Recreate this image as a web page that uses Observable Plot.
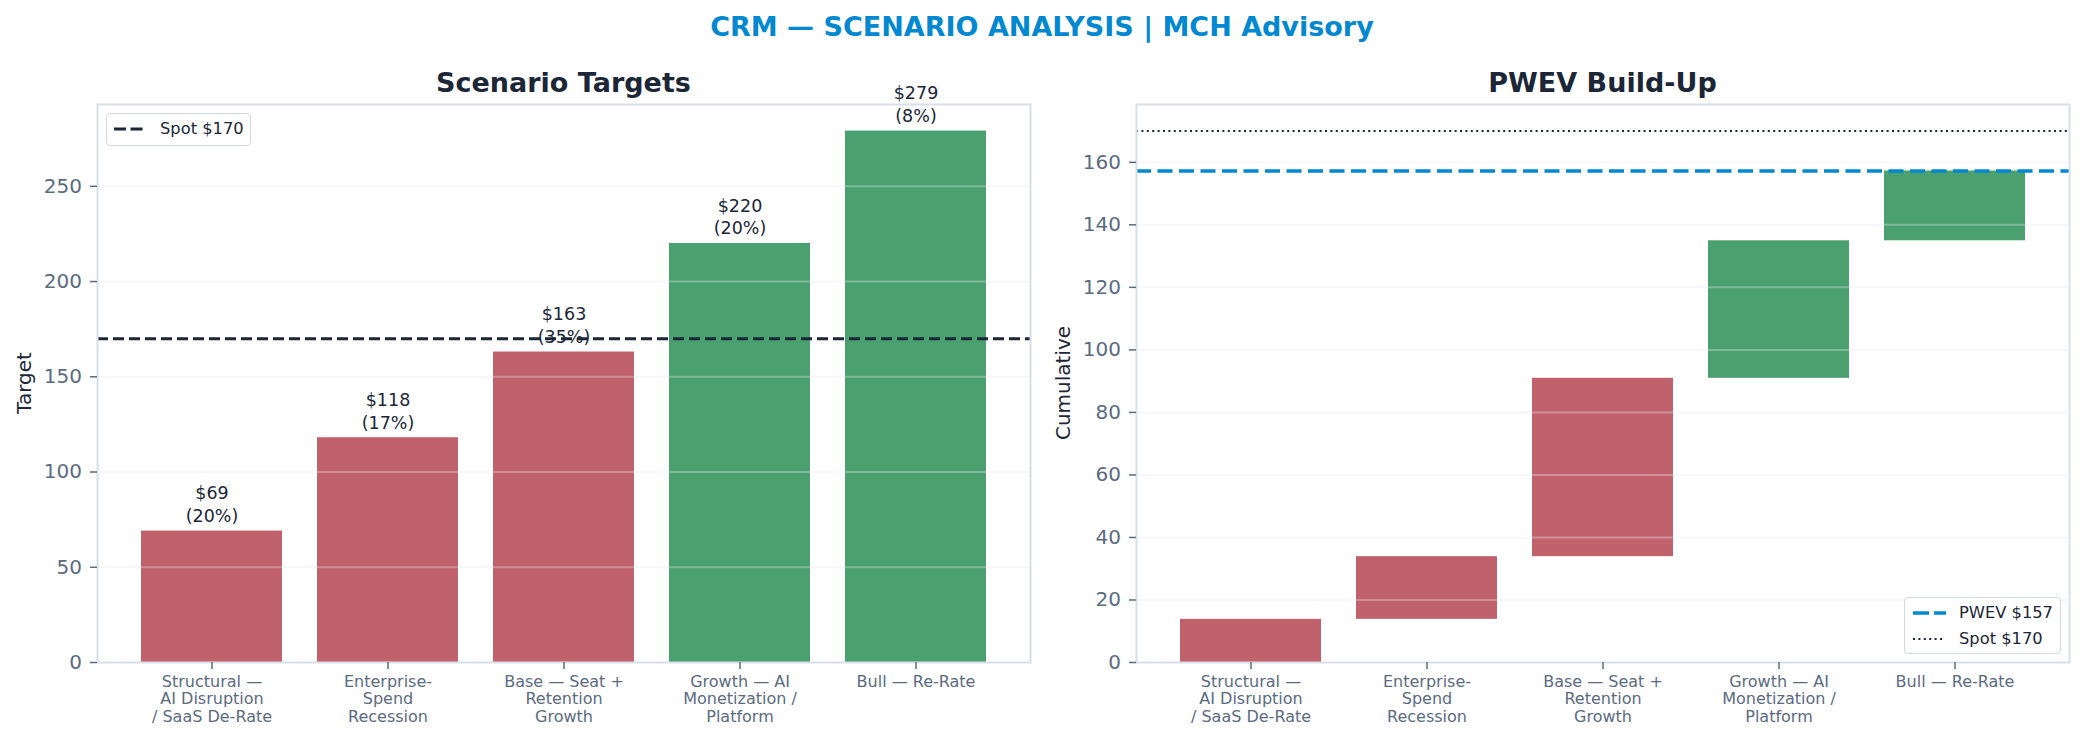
<!DOCTYPE html>
<html>
<head>
<meta charset="utf-8">
<script src="https://cdn.jsdelivr.net/npm/d3@7"></script>
<script src="https://cdn.jsdelivr.net/npm/@observablehq/plot@0.6"></script>
<style>
  html, body { margin: 0; padding: 0; background: #fff; }
  #fig { position: relative; width: 2084px; height: 742px; background: #fff; font-family: "DejaVu Sans", sans-serif; overflow: hidden; }
  .abs { position: absolute; white-space: nowrap; }
  .ptitle { font-size: 27px; font-weight: bold; color: #1b2636; line-height: 1; transform: translateX(-50%); }
  .ylab { font-size: 20px; color: #1b2636; line-height: 1; transform: translate(-50%, -50%) rotate(-90deg); }
  .legend { position: absolute; border: 1.5px solid #d3d8df; border-radius: 4px; background: rgba(255,255,255,0.9); box-sizing: border-box; }
  .legend svg { position: absolute; left: 0; top: 0; }
  .legtext { position: absolute; font-size: 16.3px; color: #1b2636; line-height: 1; transform: translateY(-50%); white-space: nowrap; }
</style>
</head>
<body>
<div id="fig"></div>
<script>
// ---- data ----
const categories = [
  "Structural — AI Disruption / SaaS De-Rate",
  "Enterprise-Spend Recession",
  "Base — Seat + Retention Growth",
  "Growth — AI Monetization / Platform",
  "Bull — Re-Rate"
];
const tickLabels = [
  "Structural —\nAI Disruption\n/ SaaS De-Rate",
  "Enterprise-\nSpend\nRecession",
  "Base — Seat +\nRetention\nGrowth",
  "Growth — AI\nMonetization /\nPlatform",
  "Bull — Re-Rate"
];
const targets = [69, 118, 163, 220, 279];
const probabilities = [20, 17, 35, 20, 8]; // percent
const spot = 170;
const leftTicks = [0, 50, 100, 150, 200, 250];
const rightTicks = [0, 20, 40, 60, 80, 100, 120, 140, 160];

const suptitle = "CRM — SCENARIO ANALYSIS | MCH Advisory";
const leftTitle = "Scenario Targets";
const rightTitle = "PWEV Build-Up";

// ---- styling constants ----
const RED = "#c0616b";
const GREEN = "#4aa06e";
const DARK = "#1b2636";
const TICK = "#5b6b7f";
const FRAME = "#d8dfe8";
const BLUE = "#0288d1";
const FONT = "DejaVu Sans";

// ---- derived table ----
const contrib = targets.map((t, i) => t * probabilities[i] / 100);
const cum = Array.from(d3.cumsum(contrib));
const pwev = cum[cum.length - 1];
const rows = categories.map((c, i) => ({
  name: c,
  target: targets[i],
  prob: probabilities[i],
  start: i === 0 ? 0 : cum[i - 1],
  end: cum[i],
  color: targets[i] < spot ? RED : GREEN,
  label: `$${targets[i]}\n(${probabilities[i]}%)`
}));
const fmtX = d => tickLabels[categories.indexOf(d)];

const fig = document.getElementById("fig");

function commonAxes(ticks) {
  return [
    Plot.frame({stroke: FRAME, strokeWidth: 2}),
    Plot.axisY({ticks, tickSize: 7, tickPadding: 8.5, fontSize: 20, stroke: TICK, fill: TICK, strokeWidth: 1.5, label: null, fontFamily: FONT}),
    Plot.axisX({tickSize: 7, tickPadding: 4.5, fontSize: 16, lineHeight: 1.1, stroke: TICK, fill: TICK, strokeWidth: 1.5, tickFormat: fmtX, label: null, fontFamily: FONT})
  ];
}

// ---- left chart ----
const left = Plot.plot({
  width: 1060, height: 702,
  marginLeft: 97, marginRight: 30, marginTop: 64, marginBottom: 80,
  style: {fontFamily: FONT, overflow: "visible", background: "transparent"},
  x: {domain: categories, paddingInner: 0.2, paddingOuter: 0.24, axis: null},
  y: {domain: [0, d3.max(targets) * 1.05], axis: null},
  marks: [
    Plot.barY(rows, {x: "name", y: "target", fill: "color"}),
    Plot.gridY(leftTicks.slice(1), {stroke: "#e5e9ef", strokeOpacity: 0.35, strokeWidth: 2}),
    Plot.ruleY([spot], {stroke: DARK, strokeWidth: 3, strokeDasharray: "11,5"}),
    Plot.text(rows, {x: "name", y: "target", text: "label", lineAnchor: "bottom", dy: -9, fontSize: 17.5, lineHeight: 1.3, fill: DARK, fontFamily: FONT}),
    ...commonAxes(leftTicks)
  ]
});
left.style.position = "absolute";
left.style.left = "0px";
left.style.top = "40px";
fig.appendChild(left);

// ---- right chart ----
const right = Plot.plot({
  width: 1024, height: 702,
  marginLeft: 76, marginRight: 15, marginTop: 64, marginBottom: 80,
  style: {fontFamily: FONT, overflow: "visible", background: "transparent"},
  x: {domain: categories, paddingInner: 0.2, paddingOuter: 0.24, axis: null},
  y: {domain: [0, spot * 1.05], axis: null},
  marks: [
    Plot.barY(rows, {x: "name", y1: "start", y2: "end", fill: "color"}),
    Plot.gridY(rightTicks.slice(1), {stroke: "#e5e9ef", strokeOpacity: 0.35, strokeWidth: 2}),
    Plot.ruleY([pwev], {stroke: BLUE, strokeWidth: 3.6, strokeDasharray: "15,6.5"}),
    Plot.ruleY([spot], {stroke: DARK, strokeWidth: 2, strokeDasharray: "2,3.4"}),
    ...commonAxes(rightTicks)
  ]
});
right.style.position = "absolute";
right.style.left = "1060px";
right.style.top = "40px";
fig.appendChild(right);

// ---- titles ----
function addDiv(cls, text, css) {
  const d = document.createElement("div");
  d.className = "abs " + cls;
  d.textContent = text;
  Object.assign(d.style, css);
  fig.appendChild(d);
  return d;
}
addDiv("ptitle", suptitle, {left: "1042px", top: "13px", color: BLUE});
addDiv("ptitle", leftTitle, {left: "563.5px", top: "69px"});
addDiv("ptitle", rightTitle, {left: "1602.5px", top: "69px"});
addDiv("ylab", "Target", {left: "24px", top: "383px"});
addDiv("ylab", "Cumulative", {left: "1063px", top: "383px"});

// ---- legends ----
function legend(x, y, w, h, items) {
  const box = document.createElement("div");
  box.className = "legend";
  Object.assign(box.style, {left: x + "px", top: y + "px", width: w + "px", height: h + "px"});
  const ns = "http://www.w3.org/2000/svg";
  const svg = document.createElementNS(ns, "svg");
  svg.setAttribute("width", w); svg.setAttribute("height", h);
  items.forEach(it => {
    const ln = document.createElementNS(ns, "line");
    ln.setAttribute("x1", it.x1 - x); ln.setAttribute("x2", it.x2 - x);
    ln.setAttribute("y1", it.y - y); ln.setAttribute("y2", it.y - y);
    ln.setAttribute("stroke", it.stroke);
    ln.setAttribute("stroke-width", it.sw);
    ln.setAttribute("stroke-dasharray", it.dash);
    svg.appendChild(ln);
    const t = document.createElement("div");
    t.className = "legtext";
    t.textContent = it.text;
    Object.assign(t.style, {left: (it.tx - x) + "px", top: (it.y - y) + "px"});
    box.appendChild(t);
  });
  box.appendChild(svg);
  fig.appendChild(box);
}
legend(106, 113, 145, 33, [
  {x1: 113, x2: 142, y: 128, stroke: DARK, sw: 3, dash: "12,4.5", text: `Spot $${spot}`, tx: 159}
]);
legend(1904, 597, 157, 57, [
  {x1: 1912, x2: 1945, y: 612, stroke: BLUE, sw: 3.6, dash: "16,5", text: `PWEV $${Math.round(pwev)}`, tx: 1958},
  {x1: 1912, x2: 1943, y: 638, stroke: DARK, sw: 2, dash: "2,3.4", text: `Spot $${spot}`, tx: 1958}
]);
</script>
</body>
</html>
